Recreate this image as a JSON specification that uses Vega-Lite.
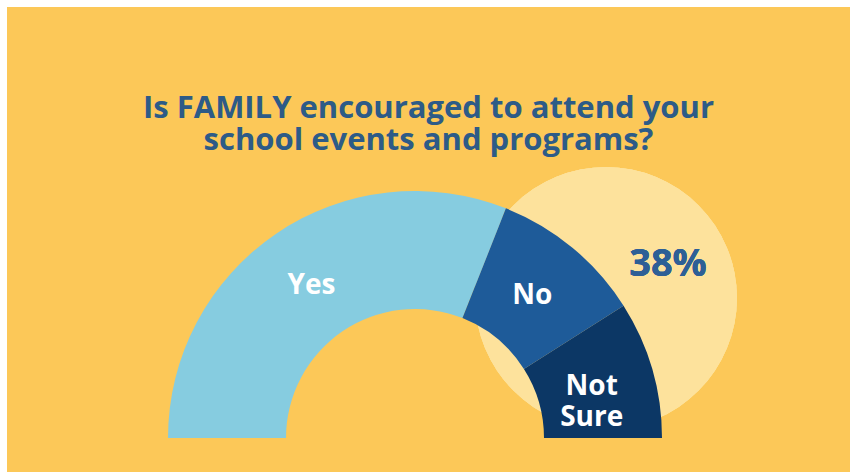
{
  "$schema": "https://vega.github.io/schema/vega-lite/v6.json",
  "width": 843,
  "height": 465,
  "autosize": {"type": "none"},
  "padding": {"left": 7, "top": 7, "right": 7, "bottom": 0},
  "background": "#ffffff",
  "config": {"view": {"stroke": null, "fill": "#FCC858"}},
  "title": {
    "text": ["Is FAMILY encouraged to attend your", "school events and programs?"],
    "frame": "group",
    "anchor": "middle",
    "orient": "top",
    "offset": -174,
    "baseline": "alphabetic",
    "font": "Open Sans",
    "fontWeight": "bold",
    "fontSize": 31,
    "lineHeight": 32,
    "color": "#2D5B87"
  },
  "data": {
    "values": [
      {"answer": "Yes", "percent": 62, "rank": 1},
      {"answer": "No", "percent": 20, "rank": 2},
      {"answer": "Not Sure", "percent": 18, "rank": 3}
    ]
  },
  "layer": [
    {
      "mark": {"type": "point", "shape": "circle", "filled": true, "size": 68600, "color": "#FDE29C", "opacity": 1},
      "encoding": {
        "x": {"datum": 599, "type": "quantitative", "scale": {"domain": [0, 843], "nice": false, "zero": false}, "axis": null},
        "y": {"datum": 291, "type": "quantitative", "scale": {"domain": [465, 0], "nice": false, "zero": false}, "axis": null}
      }
    },
    {
      "mark": {"type": "arc", "innerRadius": 129, "outerRadius": 247},
      "encoding": {
        "x": {"datum": 408, "type": "quantitative", "scale": {"domain": [0, 843], "nice": false, "zero": false}, "axis": null},
        "y": {"datum": 431, "type": "quantitative", "scale": {"domain": [465, 0], "nice": false, "zero": false}, "axis": null},
        "theta": {"field": "percent", "type": "quantitative", "stack": true, "scale": {"domain": [0, 100], "range": [-1.5707963, 1.5707963]}},
        "order": {"field": "rank", "type": "quantitative"},
        "color": {"field": "answer", "type": "nominal", "scale": {"domain": ["Yes", "No", "Not Sure"], "range": ["#86CCE0", "#1E5B99", "#0C3765"]}, "legend": null}
      }
    },
    {
      "mark": {"type": "text", "radius": 184, "font": "Open Sans", "fontWeight": "bold", "fontSize": 28, "color": "#ffffff", "lineBreak": " ", "lineHeight": 31, "baseline": "middle", "align": "center"},
      "encoding": {
        "x": {"datum": 408, "type": "quantitative", "scale": {"domain": [0, 843], "nice": false, "zero": false}, "axis": null},
        "y": {"datum": 431, "type": "quantitative", "scale": {"domain": [465, 0], "nice": false, "zero": false}, "axis": null},
        "theta": {"field": "percent", "type": "quantitative", "stack": true, "scale": {"domain": [0, 100], "range": [-1.5707963, 1.5707963]}},
        "order": {"field": "rank", "type": "quantitative"},
        "detail": {"field": "answer", "type": "nominal"},
        "text": {"field": "answer", "type": "nominal"}
      }
    },
    {
      "mark": {"type": "text", "text": "38%", "font": "Open Sans", "fontWeight": "bold", "fontSize": 38, "color": "#2E5F96", "baseline": "middle", "align": "center"},
      "encoding": {
        "x": {"datum": 661, "type": "quantitative", "scale": {"domain": [0, 843], "nice": false, "zero": false}, "axis": null},
        "y": {"datum": 258, "type": "quantitative", "scale": {"domain": [465, 0], "nice": false, "zero": false}, "axis": null}
      }
    }
  ]
}
